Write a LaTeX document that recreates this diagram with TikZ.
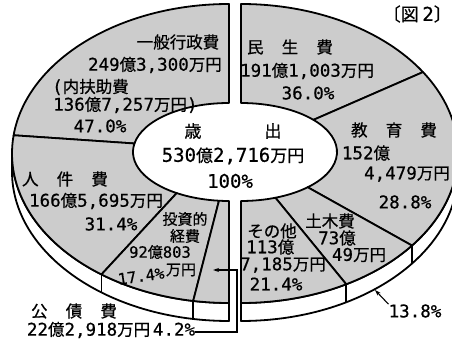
\documentclass[tikz,border=0pt]{standalone}
\usepackage{fontspec}
\setmainfont{Noto Sans CJK JP}[FakeBold=0.6]
\newfontfamily\dgfont{DejaVu Sans Mono}[FakeBold=0.6]
\newcommand\dg[1]{{\dgfont\fontsize{17.5}{19}\selectfont #1}}
\newcommand\dgs[1]{{\dgfont\fontsize{15.5}{17}\selectfont #1}}
\newcommand\dgc[1]{{\dgfont\fontsize{19}{21}\selectfont #1}}
\usetikzlibrary{arrows.meta}
% outer ellipse: centre (cx,186.5), radii 217 x 149.5 ; inner: centre (cx,188), radii 96 x 49
\newcommand\slicepath[5]{(#1,186.5) ++(#2:217pt and 149.5pt) arc[start angle=#2, end angle=#3, x radius=217pt, y radius=149.5pt] -- ([shift={(#5:96pt and 49pt)}]#1,188) arc[start angle=#5, end angle=#4, x radius=96pt, y radius=49pt] -- cycle}
\newcommand\rimpath[3]{(#1,186.5) ++(#2:217pt and 149.5pt) arc[start angle=#2, end angle=#3, x radius=217pt, y radius=149.5pt] -- ++(0,-18) arc[start angle=#3, end angle=#2, x radius=217pt, y radius=149.5pt] -- cycle}
\newcommand\rimline[2]{\draw[rimpart] (#1,186.5) ++(#2:217pt and 149.5pt) -- ++(0,-18);}
\begin{document}
\begin{tikzpicture}[x=1pt,y=1pt,
  slice/.style={fill=black!20, draw=black, line width=1.8pt, line join=round},
  rimpart/.style={fill=white, draw=black, line width=1.8pt, line join=round},
  lbl/.style={inner sep=0pt, font=\fontsize{16.5}{18}\selectfont, align=center},
  slbl/.style={inner sep=0pt, font=\fontsize{15}{16}\selectfont, align=center},
  lead/.style={line width=1.1pt},
]
\useasboundingbox (0,0) rectangle (452,340);
% rims (3D sides)
\path[rimpart] \rimpath{229}{180}{270};
\path[rimpart] \rimpath{241}{270}{360};
\rimline{229}{234}
\rimline{229}{260.5}
\rimline{241}{-38}
\rimline{241}{-61}
% left half
\path[slice] \slicepath{229}{90}{173}{90}{170};
\path[slice] \slicepath{229}{173}{234}{170}{237};
\path[slice] \slicepath{229}{234}{260.5}{237}{264};
\path[slice] \slicepath{229}{260.5}{270}{264}{270};
% right half
\path[slice] \slicepath{241}{90}{33}{90}{41};
\path[slice] \slicepath{241}{33}{-38}{41}{-46};
\path[slice] \slicepath{241}{-38}{-61}{-46}{-69};
\path[slice] \slicepath{241}{-61}{-90}{-69}{-90};
% labels left
\node[lbl] (ippan) at (178,298) {一般行政費};
\node[lbl,anchor=east] (ippanv) at (222,275) {\dg{249}億\dg{3,300}万円};
\node[lbl,anchor=west] (fujo) at (52,253) {\dg{(}内扶助費};
\node[lbl,anchor=west] (fujov) at (53,235) {\dg{136}億\dg{7,257}万円\dg{)}};
\node[lbl] (ippanp) at (100,214) {\dg{47.0\%}};
\node[lbl] (jinken) at (65,161) {人\hspace{1.1em}件\hspace{1.1em}費};
\node[lbl] (jinkenv) at (96,139) {\dg{166}億\dg{5,695}万円};
\node[lbl] (jinkenp) at (111,116) {\dg{31.4\%}};
\node[slbl] (toshi1) at (185,121) {投資的};
\node[slbl] (toshi2) at (185,104) {経費};
\node[slbl] (toshiv) at (160,88) {\dgs{92}億\dgs{803}};
\node[slbl] (toshiy) at (181,70) {万円};
\node[slbl,rotate=8] (toship) at (141,64) {\dgs{17.4\%}};
\node[lbl] (kosai) at (74,29) {公\hspace{1.1em}債\hspace{1.1em}費};
\node[lbl] (kosaiv) at (111,10) {\dg{22}億\dg{2,918}万円\,\dg{4.2\%}};
% labels right
\node[lbl] (minsei) at (290,293) {民\hspace{1.1em}生\hspace{1.1em}費};
\node[lbl] (minseiv) at (307,269) {\dg{191}億\dg{1,003}万円};
\node[lbl] (minseip) at (308,247) {\dg{36.0\%}};
\node[lbl] (kyoiku) at (394,210) {教\hspace{1.1em}育\hspace{1.1em}費};
\node[lbl] (kyoikuv1) at (366,187) {\dg{152}億};
\node[lbl] (kyoikuv2) at (407,166) {\dg{4,479}万円};
\node[lbl] (kyoikup) at (405,138) {\dg{28.8\%}};
\node[lbl] (doboku) at (330,119) {土木費};
\node[lbl] (dobokuv1) at (337,102) {\dg{73}億};
\node[lbl] (dobokuv2) at (359,85) {\dg{49}万円};
\node[lbl] (sonota) at (272,109) {その他};
\node[lbl,anchor=west] (sonotav1) at (246,93) {\dg{113}億};
\node[lbl] (sonotav2) at (283,75) {\dg{7,185}万円};
\node[lbl] (sonotap) at (276,56) {\dg{21.4\%}};
\node[lbl] (dobokup) at (415,29) {\dg{13.8\%}};
% centre
\node[lbl,font=\fontsize{17}{19}\selectfont] (sai) at (193,209) {歳};
\node[lbl,font=\fontsize{17}{19}\selectfont] (shutsu) at (273,209) {出};
\node[lbl,font=\fontsize{17}{19}\selectfont] (total) at (233,184) {\dgc{530}億\dgc{2,716}万円};
\node[lbl] (totalp) at (230,159) {\dgc{100\%}};
% title
\node[lbl,anchor=east,font=\fontsize{18}{20}\selectfont] (title) at (452,326) {〔図\hspace{0.2em}\dgc{2}〕};
% leaders
\coordinate (k1) at (237,8);
\coordinate (k2) at (237,70);
\coordinate (k3) at (213,70);
\draw[lead,-{Stealth[length=6pt,width=4pt]}] (kosaiv.east |- k1) -- (k1) -- (k2) -- (k3);
\coordinate (d1) at (375,50);
\draw[lead,-{Stealth[length=6pt,width=4pt]}] (dobokup.north west) -- (d1);
\end{tikzpicture}
\end{document}
